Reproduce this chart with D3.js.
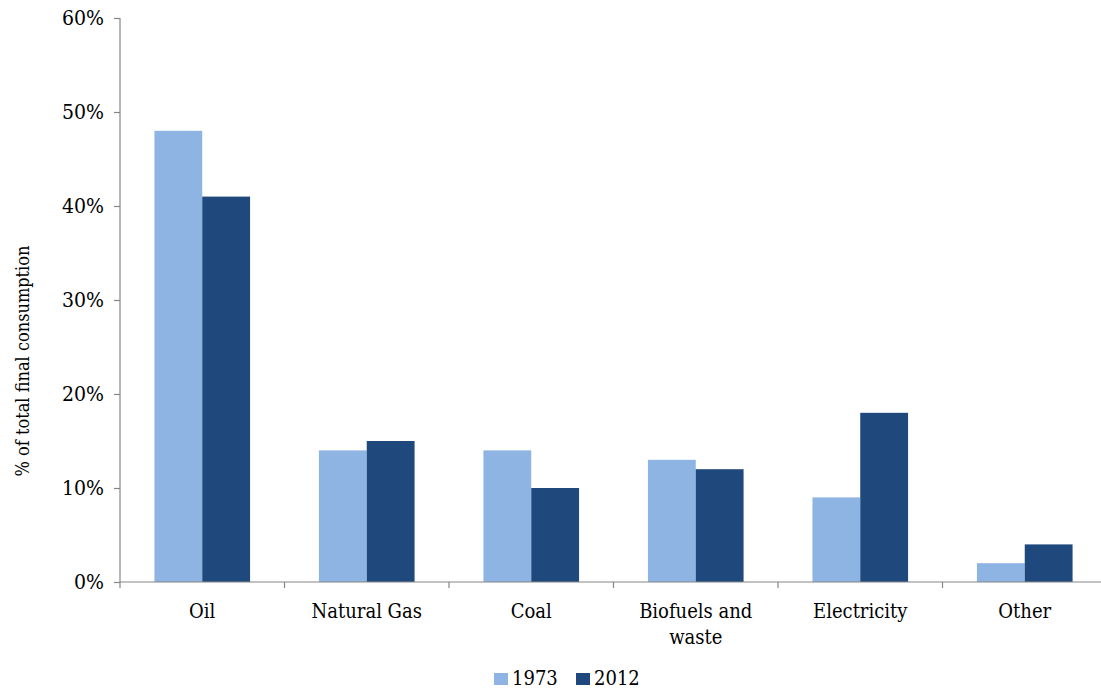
<!DOCTYPE html>
<meta charset="utf-8" />
<html>
<head>
<title>Final consumption by fuel</title>
<script src="https://cdn.jsdelivr.net/npm/d3@7"></script>
<style>
  body { margin: 0; background: #fff; }
  text { font-family: "DejaVu Serif Condensed", "Liberation Serif", serif; fill: #000; }
</style>
</head>
<body>
<div id="viz"></div>
<script>

// data
var categories = ["Oil", "Natural Gas", "Coal", "Biofuels and waste", "Electricity", "Other"];
var series = ["1973", "2012"];
var values1973 = [48, 14, 14, 13, 9, 2];
var values2012 = [41, 15, 10, 12, 18, 4];
var yTicks = [0, 10, 20, 30, 40, 50, 60];
var colors = ["#8eb4e3", "#1f497d"];

var width = 1101,
    height = 690;
// plot edges (window.top is reserved, so use other names)
var plotL = 120, plotR = 1107, plotT = 18, plotB = 582;

var svg = d3.select("#viz").append("svg")
    .attr("width", width)
    .attr("height", height);

var x0 = d3.scaleBand().domain(categories).range([plotL, plotR]).padding(0);
var x1 = d3.scaleBand().domain(series).range([0, x0.bandwidth()])
    .paddingInner(0).paddingOuter(0.72);
var y = d3.scaleLinear().domain([0, 60]).range([plotB, plotT]);
var color = d3.scaleOrdinal().domain(series).range(colors);

var rows = categories.map(function(c, i) {
  return { cat: c, vals: [ { s: "1973", v: values1973[i] }, { s: "2012", v: values2012[i] } ] };
});

// bars
var g = svg.append("g");
g.selectAll("g.cat")
  .data(rows)
  .enter().append("g")
  .attr("class", "cat")
  .attr("transform", function(d) { return "translate(" + x0(d.cat) + ",0)"; })
  .selectAll("rect")
  .data(function(d) { return d.vals; })
  .enter().append("rect")
  .attr("x", function(d) { return x1(d.s); })
  .attr("width", x1.bandwidth())
  .attr("y", function(d) { return y(d.v); })
  .attr("height", function(d) { return plotB - y(d.v); })
  .attr("fill", function(d) { return color(d.s); });

// y axis
var yAxis = svg.append("g")
  .attr("transform", "translate(" + plotL + ",0)")
  .call(d3.axisLeft(y).tickValues(yTicks).tickSize(6).tickPadding(10)
        .tickFormat(function(d) { return d + "%"; }));
yAxis.selectAll("path, line").attr("stroke", "#868686").attr("stroke-width", 1.2);
yAxis.select("path.domain").attr("d", "M0," + plotT + "V" + plotB);
yAxis.selectAll("text").style("font-size", "21px").attr("fill", "#000");

// x axis
var xAxis = svg.append("g")
  .attr("transform", "translate(0," + plotB + ")");
xAxis.append("line")
  .attr("x1", plotL).attr("x2", plotR)
  .attr("stroke", "#868686").attr("stroke-width", 1.2);
xAxis.selectAll("line.tick")
  .data(categories.concat(["end"]))
  .enter().append("line")
  .attr("class", "tick")
  .attr("x1", function(d, i) { return plotL + i * x0.step(); })
  .attr("x2", function(d, i) { return plotL + i * x0.step(); })
  .attr("y1", 0).attr("y2", 6)
  .attr("stroke", "#868686").attr("stroke-width", 1.2);

// category labels (wrap Biofuels and waste)
var lbl = xAxis.selectAll("text.cat")
  .data(categories)
  .enter().append("text")
  .attr("class", "cat")
  .attr("text-anchor", "middle")
  .attr("x", function(d) { return x0(d) + x0.bandwidth() / 2; })
  .attr("y", 36)
  .style("font-size", "20px");
lbl.each(function(d) {
  var t = d3.select(this);
  var lines = d == "Biofuels and waste" ? ["Biofuels and", "waste"] : [d];
  lines.forEach(function(s, i) {
    t.append("tspan")
      .attr("x", x0(d) + x0.bandwidth() / 2)
      .attr("dy", i == 0 ? 0 : 26)
      .text(s);
  });
});

// y title
svg.append("text")
  .attr("transform", "translate(29,361) rotate(-90)")
  .attr("text-anchor", "middle")
  .style("font-size", "18px")
  .text("% of total final consumption");

// legend
var leg = svg.append("g").attr("transform", "translate(494,685)");
var legX = [0, 82];
series.forEach(function(s, i) {
  leg.append("rect")
    .attr("x", legX[i]).attr("y", -12)
    .attr("width", 14).attr("height", 12)
    .attr("fill", color(s));
  leg.append("text")
    .attr("x", legX[i] + 18).attr("y", 0)
    .style("font-size", "20px")
    .text(s);
});

</script>
</body>
</html>
